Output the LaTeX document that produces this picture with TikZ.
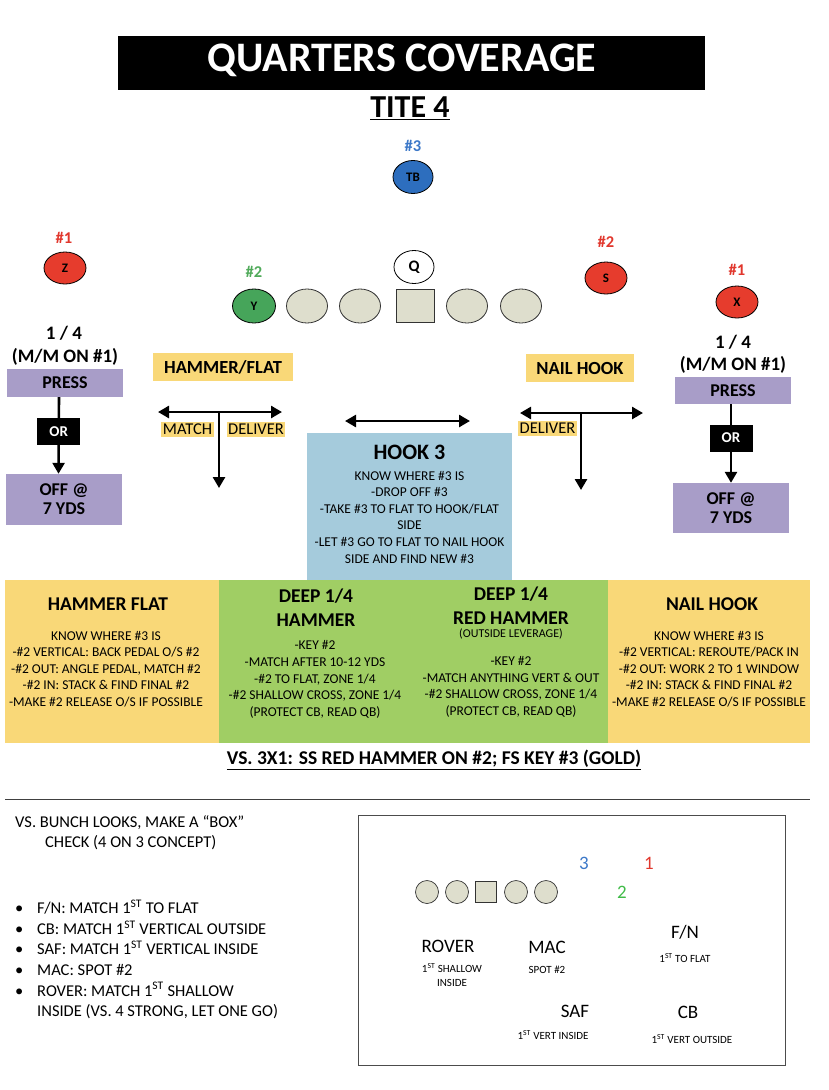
\documentclass[tikz,border=0pt]{standalone}
\usepackage{fontspec}
\setmainfont{Carlito}
\usetikzlibrary{arrows.meta,shapes.geometric}
\definecolor{redplayer}{RGB}{230,60,45}
\definecolor{redtag}{RGB}{225,55,45}
\definecolor{blueplayer}{RGB}{45,110,190}
\definecolor{bluetag}{RGB}{60,120,200}
\definecolor{greenplayer}{RGB}{70,165,90}
\definecolor{greentag}{RGB}{80,170,90}
\definecolor{olgray}{RGB}{222,222,205}
\definecolor{pressviolet}{RGB}{168,157,200}
\definecolor{zoneyellow}{RGB}{249,216,120}
\definecolor{zonegreen}{RGB}{160,206,100}
\definecolor{zoneblue}{RGB}{165,203,220}

\begin{document}
\begin{tikzpicture}[x=1pt,y=-1pt,
  player/.style={ellipse,draw=black,line width=0.8pt,minimum width=42pt,minimum height=32pt,inner sep=0pt,font=\bfseries\fontsize{13}{14}\selectfont},
  lineman/.style={ellipse,draw=black!80,line width=0.8pt,fill=olgray,minimum width=41pt,minimum height=34pt,inner sep=0pt},
  snapper/.style={rectangle,draw=black!80,line width=0.8pt,fill=olgray,minimum width=38pt,minimum height=33pt,inner sep=0pt},
  tag/.style={inner sep=0pt,font=\bfseries\fontsize{16.5}{18}\selectfont},
  headline/.style={inner sep=0pt,align=center,font=\bfseries\fontsize{19}{22}\selectfont},
  pressbox/.style={fill=pressviolet,minimum width=116pt,inner sep=0pt,align=center,font=\bfseries\fontsize{18}{19}\selectfont},
  orbox/.style={fill=black,text=white,minimum width=43pt,minimum height=27pt,inner sep=0pt,font=\bfseries\fontsize{15}{16}\selectfont},
  calltag/.style={fill=zoneyellow,minimum height=28pt,inner sep=0pt,font=\bfseries\fontsize{18.5}{20}\selectfont},
  cuetag/.style={fill=zoneyellow,inner xsep=1.5pt,inner ysep=2pt,font=\fontsize{16.5}{18}\selectfont},
  arr/.style={line width=2.6pt,-{Triangle[length=11pt,width=12pt]}},
  dblarr/.style={line width=2.6pt,{Triangle[length=11pt,width=12pt]}-{Triangle[length=11pt,width=12pt]}},
  boxhead/.style={inner sep=0pt,align=center,font=\bfseries\fontsize{19.5}{24}\selectfont},
  body/.style={inner sep=0pt,align=center,font=\fontsize{13.5}{16.6}\selectfont},
  bigpos/.style={inner sep=0pt,font=\fontsize{19}{22}\selectfont},
  smallnote/.style={inner sep=0pt,align=center,font=\fontsize{11}{14}\selectfont},
  minor/.style={draw=black!80,line width=0.7pt,fill=olgray,inner sep=0pt}]
\useasboundingbox (0,0) rectangle (828,1090);
%================================================================
%	Title
\node[fill=black,minimum width=587pt,minimum height=54pt,inner sep=0pt] (titlebar) at (411.5,63) {};
\node[text=white,inner sep=0pt,font=\bfseries\fontsize{42}{44}\selectfont] (title) at (402,60) {QUARTERS COVERAGE};
\node[inner sep=0pt,font=\bfseries\fontsize{32}{34}\selectfont] (tite) at (410,108) {\underline{TITE 4}};

%================================================================
%	Offense
\node[tag,text=bluetag] (num3) at (413,146) {\#3};
\node[player,fill=blueplayer,minimum width=40pt,minimum height=33pt] (tb) at (413,177) {TB};
\node[player,fill=white,minimum width=40pt,minimum height=33pt,font=\bfseries\fontsize{16}{17}\selectfont] (qb) at (414,267) {Q};
%----------------------------------------------------------------
\node[tag,text=redtag] (num1z) at (64,238) {\#1};
\node[player,fill=redplayer] (z) at (65,268) {Z};
\node[tag,text=redtag] (num2s) at (606,242) {\#2};
\node[player,fill=redplayer] (s) at (606,278) {S};
\node[tag,text=redtag] (num1x) at (737,270) {\#1};
\node[player,fill=redplayer] (x) at (737,302) {X};
\node[tag,text=greentag] (num2y) at (254,272) {\#2};
\node[player,fill=greenplayer,minimum width=43pt,minimum height=34pt] (y) at (254,306) {Y};
%----------------------------------------------------------------
\node[lineman] (lt) at (307,306) {};
\node[lineman] (lg) at (360,306) {};
\node[snapper] (c) at (415,305.5) {};
\node[lineman] (rg) at (467,306) {};
\node[lineman] (rt) at (521,306) {};

%================================================================
%	Corners
\node[headline] (fracL) at (64,333) {1 / 4};
\node[headline] (mmL) at (65,357) {(M/M ON \#1)};
\node[pressbox,minimum height=28pt] (pressL) at (65,383) {PRESS};
\node[pressbox,minimum height=51pt] (offL) at (64,499.5) {OFF @\\7 YDS};
\draw[arr] ([xshift=-6pt]pressL.south) -- ([xshift=-5.5pt]offL.north) node[orbox,pos=0.45] (orL) {OR};
%----------------------------------------------------------------
\node[headline] (fracR) at (733,342) {1 / 4};
\node[headline] (mmR) at (733,365) {(M/M ON \#1)};
\node[pressbox,minimum height=27pt] (pressR) at (733,390.5) {PRESS};
\node[pressbox,minimum height=50pt] (offR) at (731,508) {OFF @\\7 YDS};
\draw[arr] (pressR.south -| offR.north) -- (offR.north) node[orbox,pos=0.43] (orR) {OR};

%================================================================
%	Underneath calls
\node[calltag,minimum width=140pt] (hammerTag) at (223,367) {HAMMER/FLAT};
\node[calltag,minimum width=108pt] (nailTag) at (580,368) {NAIL HOOK};
%----------------------------------------------------------------
\coordinate (hamW) at (158,412);
\coordinate (hamE) at (282,412);
\coordinate (hamS) at (219,488);
\draw[dblarr] (hamW) -- (hamE);
\draw[arr] (hamW -| hamS) -- (hamS);
\node[cuetag] (matchL) at (187.5,429.5) {MATCH};
\node[cuetag] (deliverL) at (256,429.5) {DELIVER};
%----------------------------------------------------------------
\coordinate (nailW) at (520,413);
\coordinate (nailE) at (643,413);
\coordinate (nailS) at (581,490);
\draw[dblarr] (nailW) -- (nailE);
\draw[arr] (nailW -| nailS) -- (nailS);
\node[cuetag] (deliverR) at (547.5,428.5) {DELIVER};
%----------------------------------------------------------------
\coordinate (hookW) at (345,421);
\coordinate (hookE) at (470,421);
\draw[dblarr] (hookW) -- (hookE);
\node[fill=zoneblue,minimum width=205pt,minimum height=147pt,inner sep=0pt] (hookbox) at (409.5,506.5) {};
\node[inner sep=0pt,font=\bfseries\fontsize{22}{24}\selectfont] (hookhead) at (409.5,452) {HOOK 3};
\node[body] (hookbody) at (409.5,517) {KNOW WHERE \#3 IS\\-DROP OFF \#3\\-TAKE \#3 TO FLAT TO HOOK/FLAT\\SIDE\\-LET \#3 GO TO FLAT TO NAIL HOOK\\SIDE AND FIND NEW \#3};

%================================================================
%	Zones
\node[fill=zoneyellow,minimum width=214pt,minimum height=163pt,inner sep=0pt] (hfzone) at (112,661.5) {};
\node[fill=zonegreen,minimum width=389pt,minimum height=163pt,inner sep=0pt] (deepzone) at (413.5,661.5) {};
\node[fill=zoneyellow,minimum width=202pt,minimum height=163pt,inner sep=0pt] (nhzone) at (709,661.5) {};
%----------------------------------------------------------------
\node[boxhead] (hfhead) at (108,604.5) {HAMMER FLAT};
\node[body] (hfbody) at (106,669) {KNOW WHERE \#3 IS\\-\#2 VERTICAL: BACK PEDAL O/S \#2\\-\#2 OUT: ANGLE PEDAL, MATCH \#2\\-\#2 IN: STACK \& FIND FINAL \#2\\-MAKE \#2 RELEASE O/S IF POSSIBLE};
\node[boxhead] (dhhead) at (316,608) {DEEP 1/4\\HAMMER};
\node[body] (dhbody) at (315,679.5) {-KEY \#2\\-MATCH AFTER 10-12 YDS\\-\#2 TO FLAT, ZONE 1/4\\-\#2 SHALLOW CROSS, ZONE 1/4\\(PROTECT CB, READ QB)};
\node[boxhead] (drhead) at (511,606) {DEEP 1/4\\RED HAMMER};
\node[inner sep=0pt,font=\fontsize{12}{14}\selectfont] (drlev) at (511,634) {(OUTSIDE LEVERAGE)};
\node[body] (drbody) at (511,687) {-KEY \#2\\-MATCH ANYTHING VERT \& OUT\\-\#2 SHALLOW CROSS, ZONE 1/4\\(PROTECT CB, READ QB)};
\node[boxhead] (nhhead) at (712,604.5) {NAIL HOOK};
\node[body] (nhbody) at (709,669) {KNOW WHERE \#3 IS\\-\#2 VERTICAL: REROUTE/PACK IN\\-\#2 OUT: WORK 2 TO 1 WINDOW\\-\#2 IN: STACK \& FIND FINAL \#2\\-MAKE \#2 RELEASE O/S IF POSSIBLE};
%----------------------------------------------------------------
\node[inner sep=0pt,font=\bfseries\fontsize{19.5}{21}\selectfont] (vsnote) at (434,760) {\underline{VS. 3X1: SS RED HAMMER ON \#2; FS KEY \#3 (GOLD)}};
\draw[line width=1pt,black!75] (5,799) -- (810,799);

%================================================================
%	Bunch check
\node[anchor=west,align=left,inner sep=0pt,font=\fontsize{16.5}{20.3}\selectfont] (bunchnote) at (15,833)
  {VS. BUNCH LOOKS, MAKE A “BOX”\\\hspace*{30pt}CHECK (4 ON 3 CONCEPT)};
\node[anchor=west,align=left,inner sep=0pt,font=\fontsize{16.5}{20.6}\selectfont] (bunchlist) at (15,959.5)
  {\makebox[22pt][l]{\textbullet}F/N: MATCH 1\textsuperscript{ST} TO FLAT\\
   \makebox[22pt][l]{\textbullet}CB: MATCH 1\textsuperscript{ST} VERTICAL OUTSIDE\\
   \makebox[22pt][l]{\textbullet}SAF: MATCH 1\textsuperscript{ST} VERTICAL INSIDE\\
   \makebox[22pt][l]{\textbullet}MAC: SPOT \#2\\
   \makebox[22pt][l]{\textbullet}ROVER: MATCH 1\textsuperscript{ST} SHALLOW\\
   \hspace*{22pt}INSIDE (VS. 4 STRONG, LET ONE GO)};
%----------------------------------------------------------------
\node[draw=black!70,line width=1pt,minimum width=427pt,minimum height=250pt,inner sep=0pt] (bunchbox) at (571.5,940) {};
\node[minor,circle,minimum size=23pt] (bt1) at (427,892) {};
\node[minor,circle,minimum size=23pt] (bt2) at (457,892) {};
\node[minor,minimum size=21pt] (bc) at (486,892) {};
\node[minor,circle,minimum size=23pt] (bt3) at (516,892) {};
\node[minor,circle,minimum size=23pt] (bt4) at (546,892) {};
\node[bigpos,text=bluetag] (b3) at (584,863) {3};
\node[bigpos,text=redtag] (b1) at (649,863) {1};
\node[bigpos,text=greentag!80!green] (b2) at (622,892) {2};
%----------------------------------------------------------------
\node[bigpos] (rover) at (448,946) {ROVER};
\node[smallnote] (roverjob) at (452,975.5) {1\textsuperscript{ST} SHALLOW\\INSIDE};
\node[bigpos] (mac) at (547,947) {MAC};
\node[smallnote] (macjob) at (547,970) {SPOT \#2};
\node[bigpos] (fn) at (685,932) {F/N};
\node[smallnote] (fnjob) at (685,958) {1\textsuperscript{ST} TO FLAT};
\node[bigpos] (saf) at (575,1011) {SAF};
\node[smallnote] (safjob) at (553,1035) {1\textsuperscript{ST} VERT INSIDE};
\node[bigpos] (cb) at (688,1012) {CB};
\node[smallnote] (cbjob) at (692,1039) {1\textsuperscript{ST} VERT OUTSIDE};
%================================================================
\end{tikzpicture}
\end{document}
